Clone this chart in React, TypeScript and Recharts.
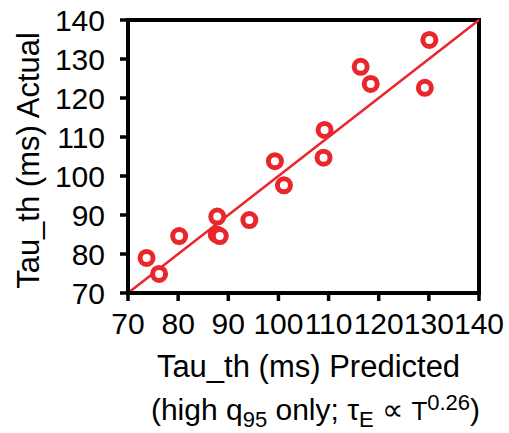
import { ScatterChart, Scatter, XAxis, YAxis, ReferenceLine, ReferenceArea, Label } from 'recharts'

// tau_th values (ms)
const predicted = [73.7, 76.2, 80.2, 87.8, 87.7, 88.3, 94.2, 99.3, 101.1, 109.2, 109.0, 116.4, 118.4, 129.2, 130.1]
const actual = [79.0, 74.9, 84.6, 89.6, 85.0, 84.6, 88.7, 103.8, 97.6, 111.8, 104.7, 128.0, 123.6, 122.6, 134.9]
const ticks = [70, 80, 90, 100, 110, 120, 130, 140]
const fitEnds = [70, 140]

const RED = '#E8262B'
const FONT = '"Liberation Sans", Arial, Helvetica, sans-serif'

const points = predicted.map((p, i) => ({ predicted: p, actual: actual[i] }))

const Ring = (props: any) => (
    <circle cx={props.cx} cy={props.cy} r={6.5} fill="#fff" stroke={RED} strokeWidth={5} />
)

const XTitle = (props: any) => {
    const { x, y, width } = props.viewBox
    const cx = x + width / 2
    return (
        <g fontFamily={FONT} fill="#000">
            <text x={cx + 5} y={y + 84} textAnchor="middle" fontSize={31}>
                Tau_th (ms) Predicted
            </text>
            <text x={cx + 12} y={y + 127} textAnchor="middle" fontSize={30}>
                (high q<tspan fontSize={22} dy={7}>95</tspan>
                <tspan dy={-7}> only; τ</tspan>
                <tspan fontSize={22} dy={7}>E</tspan>
                <tspan dy={-7}> ∝ </tspan>
                <tspan fontSize={26}>T</tspan>
                <tspan fontSize={22} dy={-10}>0.26</tspan>
                <tspan dy={10}>)</tspan>
            </text>
        </g>
    )
}

const YTitle = (props: any) => {
    const { y, height } = props.viewBox
    const tx = 38.5
    const ty = y + height / 2 + 4
    return (
        <text
            x={tx}
            y={ty}
            transform={`rotate(-90, ${tx}, ${ty})`}
            textAnchor="middle"
            fontSize={31}
            fontFamily={FONT}
            fill="#000"
        >
            Tau_th (ms) Actual
        </text>
    )
}

export default function App() {
    return (
        <div style={{ position: 'absolute', left: 0, top: 0, width: 509, height: 433, background: '#fff' }}>
            <ScatterChart width={509} height={433} margin={{ top: 20, right: 30, left: 0, bottom: 0 }}>
                <XAxis
                    type="number"
                    dataKey="predicted"
                    domain={[70, 140]}
                    ticks={ticks}
                    interval={0}
                    allowDataOverflow
                    height={140}
                    axisLine={{ stroke: '#000', strokeWidth: 4 }}
                    tickLine={{ stroke: '#000', strokeWidth: 3.5 }}
                    tickSize={8}
                    tickMargin={12}
                    tick={{ fill: '#000', fontSize: 30, fontFamily: FONT }}
                >
                    <Label content={<XTitle />} />
                </XAxis>
                <YAxis
                    type="number"
                    dataKey="actual"
                    domain={[70, 140]}
                    ticks={ticks}
                    interval={0}
                    allowDataOverflow
                    width={128}
                    axisLine={{ stroke: '#000', strokeWidth: 4 }}
                    tickLine={{ stroke: '#000', strokeWidth: 3.5 }}
                    tickSize={8}
                    tickMargin={15}
                    tick={{ fill: '#000', fontSize: 30, fontFamily: FONT }}
                >
                    <Label content={<YTitle />} />
                </YAxis>
                <ReferenceArea x1={70} x2={140} y1={70} y2={140} fill="none" stroke="#000" strokeWidth={4} />
                <ReferenceLine
                    segment={[
                        { x: fitEnds[0], y: fitEnds[0] },
                        { x: fitEnds[1], y: fitEnds[1] },
                    ]}
                    stroke={RED}
                    strokeWidth={2.5}
                />
                <Scatter data={points} shape={Ring} isAnimationActive={false} />
            </ScatterChart>
        </div>
    )
}
